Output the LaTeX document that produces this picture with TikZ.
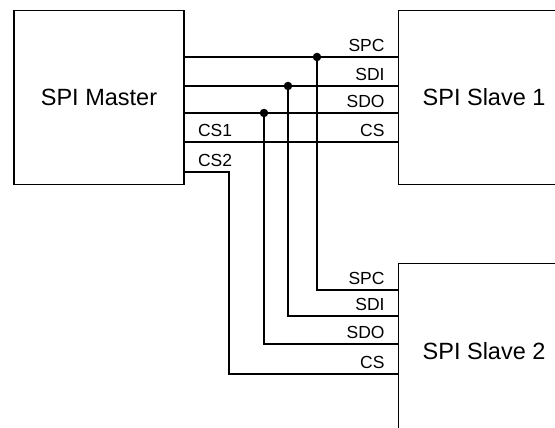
\documentclass[tikz,border=0pt]{standalone}
\usepackage{fontspec}
\setmainfont{Liberation Sans}
\usetikzlibrary{positioning, calc}

\begin{document}
\begin{tikzpicture}[x=1pt,y=-1pt,line width=1.1pt,
	box/.style={rectangle,draw,minimum width=170pt,minimum height=174pt,inner sep=0pt,font=\fontsize{23.5}{28}\selectfont},
	pinlabel/.style={anchor=base east,xshift=-12.5pt,yshift=5.7pt,inner sep=0pt,font=\fontsize{17.5}{20}\selectfont},
	cslabel/.style={anchor=base west,xshift=13pt,yshift=5pt,inner sep=0pt,font=\fontsize{17.5}{20}\selectfont},
	junction/.style={circle,fill,inner sep=0pt,minimum size=8.5pt}]

	\useasboundingbox (0,0) rectangle (555,428);
	\clip (0,0) rectangle (555,428);

	\node[box] (master) at (99,97.5) {SPI Master};
	\node[box,minimum width=172pt] (slave1) [right=213pt of master] {SPI Slave 1};
	\node[box,minimum width=172pt] (slave2) [below=78pt of slave1] {SPI Slave 2};

	% pins
	\foreach \y/\n in {57/1,86/2,113/3,142/4,172/5}
		\coordinate (m\n) at (master.east |- 0,\y);
	\foreach \y/\n in {57/a,86/b,113/c,142/d}
		\coordinate (s1\n) at (slave1.west |- 0,\y);
	\foreach \y/\n in {290/a,316/b,344/c,374/d}
		\coordinate (s2\n) at (slave2.west |- 0,\y);
	\coordinate (bend) at (229,172);

	% bus lines
	\draw (m1) -- (s1a);
	\draw (m2) -- (s1b);
	\draw (m3) -- (s1c);
	\draw (m4) -- (s1d);
	\node[junction] (j1) at (317,57) {};
	\node[junction] (j2) at (288,86) {};
	\node[junction] (j3) at (264,113) {};
	\draw (j1.center) |- (s2a);
	\draw (j2.center) |- (s2b);
	\draw (j3.center) |- (s2c);
	\draw (m5) -- (bend) |- (s2d);

	% labels
	\foreach \n/\t in {a/SPC,b/SDI,c/SDO,d/CS}{
		\node[pinlabel] (t1\n) at (s1\n) {\t};
		\node[pinlabel] (t2\n) at (s2\n) {\t};
	}
	\node[cslabel] (cs1) at (m4) {CS1};
	\node[cslabel] (cs2) at (m5) {CS2};
\end{tikzpicture}
\end{document}
